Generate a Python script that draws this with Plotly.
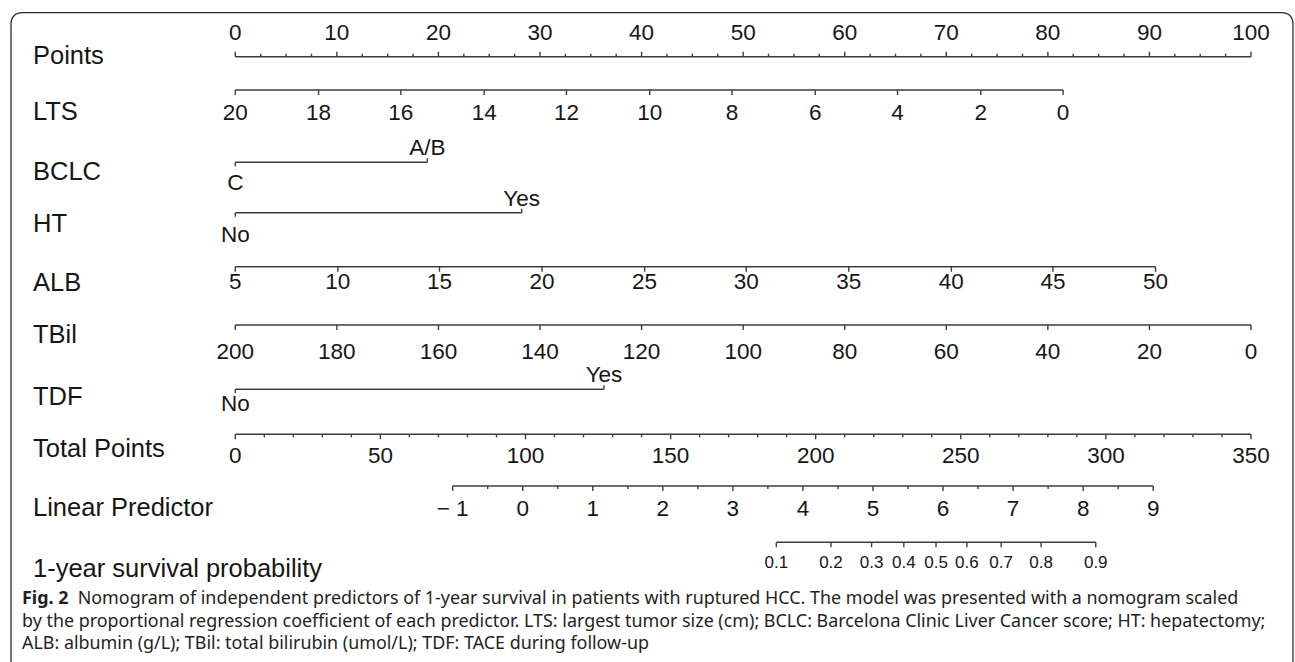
import plotly.graph_objects as go

W, H = 1295, 662

# ---------------- data ----------------
points_major = [0, 10, 20, 30, 40, 50, 60, 70, 80, 90, 100]
points_minor_step = 2.5

lts_labels = [20, 18, 16, 14, 12, 10, 8, 6, 4, 2, 0]
lts_points = [0, 8.2, 16.3, 24.5, 32.6, 40.8, 48.9, 57.1, 65.2, 73.4, 81.5]

bclc_labels = ["C", "A/B"]
bclc_points = [0, 18.9]

ht_labels = ["No", "Yes"]
ht_points = [0, 28.2]

alb_labels = [5, 10, 15, 20, 25, 30, 35, 40, 45, 50]
alb_points = [0, 10.1, 20.1, 30.2, 40.3, 50.3, 60.4, 70.5, 80.5, 90.6]

tbil_labels = [200, 180, 160, 140, 120, 100, 80, 60, 40, 20, 0]
tbil_points = [0, 10, 20, 30, 40, 50, 60, 70, 80, 90, 100]

tdf_labels = ["No", "Yes"]
tdf_points = [0, 36.3]

total_major = [0, 50, 100, 150, 200, 250, 300, 350]
total_minor_step = 10
total_max = 350

lp_major = [-1, 0, 1, 2, 3, 4, 5, 6, 7, 8, 9]
lp_minor_step = 0.5
lp_total_at_ends = [74.9, 316.3]   # total points at LP = -1 and LP = 9

surv_labels = ["0.1", "0.2", "0.3", "0.4", "0.5", "0.6", "0.7", "0.8", "0.9"]
surv_lp = [3.62, 4.40, 4.98, 5.44, 5.90, 6.34, 6.83, 7.40, 8.18]

row_names = ["Points", "LTS", "BCLC", "HT", "ALB", "TBil", "TDF",
             "Total Points", "Linear Predictor", "1-year survival probability"]

# ---------------- layout helpers ----------------
LINE_COLOR = "#3c3c3c"
TEXT_COLOR = "#161616"
FONT = "Liberation Sans, Arial, sans-serif"
TICK_FS = 22.5
ROW_FS = 25.5

# pixel rows (y in pixel units, axis reversed)
row_label_y = [55, 111, 171, 223, 282, 334, 396, 448, 507, 568]
line_y = [56.7, 90, 162.3, 212.7, 266.7, 325, 389.3, 434.3, 486, 542.3]

def total_to_points(tp):
    return tp * 100.0 / total_max

def lp_to_total(lp):
    a, b = lp_total_at_ends
    return a + (lp - lp_major[0]) * (b - a) / (lp_major[-1] - lp_major[0])

def frange(a, b, step):
    out, v = [], a
    while v <= b + 1e-9:
        out.append(round(v, 6))
        v += step
    return out

seg_x, seg_y = [], []

def hline(x0, x1, y):
    seg_x.extend([x0, x1, None]); seg_y.extend([y, y, None])

def tick(x, y, length, direction):
    seg_x.extend([x, x, None]); seg_y.extend([y, y + direction * length, None])

text_traces = []

def labels(xs, ys, texts, size=TICK_FS, family=FONT):
    text_traces.append(go.Scatter(
        x=xs, y=ys, text=texts, mode="text", textposition="middle center",
        textfont=dict(size=size, family=family, color=TEXT_COLOR),
        hoverinfo="skip", showlegend=False))

# Points
y = line_y[0]
hline(points_major[0], points_major[-1], y)
for p in points_major:
    tick(p, y, 5, -1)
for p in frange(points_major[0], points_major[-1], points_minor_step):
    if p not in points_major:
        tick(p, y, 3, -1)
labels(points_major, [34] * len(points_major), [str(v) for v in points_major])

# continuous predictors (ticks down, labels below)
def cont_row(pts, labs, y, ly):
    hline(min(pts), max(pts), y)
    for p in pts:
        tick(p, y, 5, 1)
    labels(pts, [ly] * len(pts), [str(v) for v in labs])

cont_row(lts_points, lts_labels, line_y[1], 114)

# categorical predictors
def cat_row(pts, labs, y, ly_low, ly_high):
    hline(pts[0], pts[1], y)
    tick(pts[0], y, 4, 1)
    tick(pts[1], y, 4, -1)
    labels([pts[0]], [ly_low], [labs[0]])
    labels([pts[1]], [ly_high], [labs[1]])

cat_row(bclc_points, bclc_labels, line_y[2], 184, 149)
cat_row(ht_points, ht_labels, line_y[3], 236, 200)
cont_row(alb_points, alb_labels, line_y[4], 283)
cont_row(tbil_points, tbil_labels, line_y[5], 353)
cat_row(tdf_points, tdf_labels, line_y[6], 405, 376)

# Total points
y = line_y[7]
hline(total_to_points(total_major[0]), total_to_points(total_major[-1]), y)
for t in total_major:
    tick(total_to_points(t), y, 5, 1)
for t in frange(total_major[0], total_major[-1], total_minor_step):
    if t not in total_major:
        tick(total_to_points(t), y, 3, 1)
labels([total_to_points(t) for t in total_major], [457] * len(total_major),
       [str(t) for t in total_major])

# Linear predictor
y = line_y[8]
lp_x = [total_to_points(lp_to_total(v)) for v in lp_major]
hline(lp_x[0], lp_x[-1], y)
for xv in lp_x:
    tick(xv, y, 5, 1)
for v in frange(lp_major[0], lp_major[-1], lp_minor_step):
    if v not in lp_major:
        tick(total_to_points(lp_to_total(v)), y, 3, 1)
labels(lp_x, [510] * len(lp_x),
       [("\u2212 " + str(-v)) if v < 0 else str(v) for v in lp_major])

# Survival probability
y = line_y[9]
sx = [total_to_points(lp_to_total(v)) for v in surv_lp]
hline(sx[0], sx[-1], y)
for xv in sx:
    tick(xv, y, 5, 1)
labels(sx, [564] * len(sx), surv_labels, size=17)

fig = go.Figure()
fig.add_trace(go.Scatter(x=seg_x, y=seg_y, mode="lines",
                         line=dict(color=LINE_COLOR, width=1.4),
                         hoverinfo="skip", showlegend=False))
for t in text_traces:
    fig.add_trace(t)

# row labels
for name, ly in zip(row_names, row_label_y):
    fig.add_annotation(x=31 / W, xref="paper", y=ly, yref="y", text=name,
                       showarrow=False, xanchor="left", yanchor="middle",
                       font=dict(size=ROW_FS, family=FONT, color=TEXT_COLOR))

# caption
CAP_FONT = "Noto Sans, Open Sans, sans-serif"
caption_lines = [
    "<b>Fig. 2</b>  Nomogram of independent predictors of 1-year survival in patients with ruptured HCC. The model was presented with a nomogram scaled",
    "by the proportional regression coefficient of each predictor. LTS: largest tumor size (cm); BCLC: Barcelona Clinic Liver Cancer score; HT: hepatectomy;",
    "ALB: albumin (g/L); TBil: total bilirubin (umol/L); TDF: TACE during follow-up",
]
for txt, cy in zip(caption_lines, [597, 620, 642]):
    fig.add_annotation(x=20 / W, xref="paper", y=cy, yref="y", text=txt,
                       showarrow=False, xanchor="left", yanchor="middle",
                       font=dict(size=17.9, family=CAP_FONT, color="#231f20"))

# rounded frame (open at bottom)
def px(xp):
    return xp / W
def py(yp):
    return 1 - yp / H
L, T, R, r = 11, 12.7, 1293, 12
path = (f"M {px(L)},{py(H + 40)} L {px(L)},{py(T + r)} "
        f"Q {px(L)},{py(T)} {px(L + r)},{py(T)} "
        f"L {px(R - r)},{py(T)} Q {px(R)},{py(T)} {px(R)},{py(T + r)} "
        f"L {px(R)},{py(H + 40)}")
fig.add_shape(type="path", path=path, xref="paper", yref="paper",
              line=dict(color="#2a2a2a", width=1.3))

x_scale = (1251 - 235.3) / 100.0
fig.update_layout(
    width=W, height=H,
    margin=dict(l=0, r=0, t=0, b=0),
    paper_bgcolor="white", plot_bgcolor="white",
    xaxis=dict(range=[-235.3 / x_scale, (W - 235.3) / x_scale],
               visible=False, fixedrange=True),
    yaxis=dict(range=[H, 0], visible=False, fixedrange=True),
    showlegend=False,
)

fig.write_html("out.html", config={"displayModeBar": False},
               post_script="document.body.style.margin='0';")
